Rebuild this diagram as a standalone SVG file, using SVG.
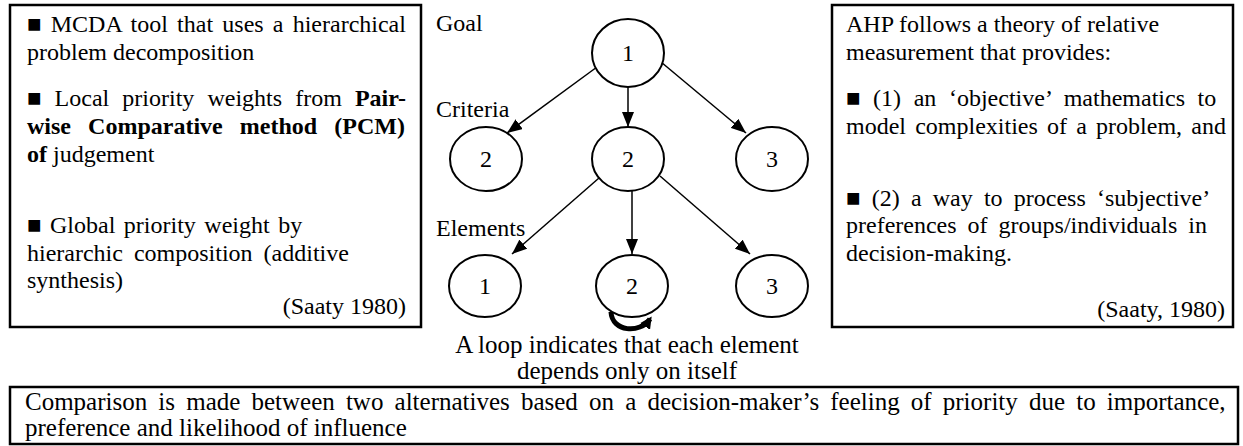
<svg xmlns="http://www.w3.org/2000/svg" width="1243" height="446" viewBox="0 0 1243 446" font-family="'Liberation Serif', 'Times New Roman', serif">
<style>
text{font-family:'Liberation Serif','Times New Roman',serif;font-size:24px;fill:#000}
.box{fill:#fff;stroke:#000;stroke-width:2.5}
.node{fill:#fff;stroke:#000;stroke-width:2}
.num{text-anchor:middle}
.conn{fill:none;stroke:#000;stroke-width:1.5;marker-end:url(#ah)}
.b{font-weight:bold}
.lg{font-size:25px}
</style>
<defs>
<marker id="ah" viewBox="0 0 15 12" refX="15" refY="6" markerWidth="15" markerHeight="12" markerUnits="userSpaceOnUse" orient="auto"><path d="M0,0 L15,6 L0,12 Z" fill="#000"/></marker>
<marker id="ah2" viewBox="0 0 12 12" refX="9" refY="6" markerWidth="12" markerHeight="12" markerUnits="userSpaceOnUse" orient="auto"><path d="M0,0 L12,6 L0,12 Z" fill="#000"/></marker>
</defs>
<g id="left-box">
<rect class="box" x="10" y="5" width="411" height="322"/>
<text x="27" y="32" word-spacing="3.2">■ MCDA tool that uses a hierarchical</text>
<text x="27" y="60">problem decomposition</text>
<text x="27" y="106" word-spacing="7.1">■ Local priority weights from <tspan class="b">Pair-</tspan></text>
<text x="27" y="134" class="b" word-spacing="11.1">wise Comparative method (PCM)</text>
<text x="27" y="162"><tspan class="b">of</tspan> judgement</text>
<text x="27" y="233" word-spacing="2.5">■ Global priority weight by</text>
<text x="27" y="261" word-spacing="5">hierarchic composition (additive</text>
<text x="27" y="288">synthesis)</text>
<text x="406" y="314" text-anchor="end">(Saaty 1980)</text>
</g>
<g id="right-box">
<rect class="box" x="832" y="5" width="401" height="322"/>
<text x="846" y="32">AHP follows a theory of relative</text>
<text x="846" y="60">measurement that provides:</text>
<text x="846" y="106" word-spacing="6.6">■ (1) an ‘objective’ mathematics to</text>
<text x="846" y="134" word-spacing="3.2">model complexities of a problem, and</text>
<text x="846" y="206" word-spacing="5.2">■ (2) a way to process ‘subjective’</text>
<text x="846" y="233" word-spacing="5">preferences of groups/individuals in</text>
<text x="846" y="261">decision-making.</text>
<text x="1225" y="317" text-anchor="end">(Saaty, 1980)</text>
</g>
<g id="level-labels">
<text x="436" y="31">Goal</text>
<text x="436" y="117">Criteria</text>
<text x="436" y="236">Elements</text>
</g>
<g id="connectors">
<line class="conn" x1="597" y1="67" x2="507" y2="133"/>
<line class="conn" x1="628" y1="87" x2="628" y2="127"/>
<line class="conn" x1="661" y1="62" x2="746" y2="133"/>
<line class="conn" x1="599" y1="178" x2="512" y2="254"/>
<line class="conn" x1="632" y1="190" x2="632" y2="254"/>
<line class="conn" x1="660" y1="176" x2="750" y2="254"/>
<path id="loop" d="M611,312 C612,332 640,334 650,319" fill="none" stroke="#000" stroke-width="5" marker-end="url(#ah2)"/>
</g>
<g id="goal"><ellipse class="node" cx="628" cy="53" rx="36" ry="34"/><text class="num" x="628" y="61">1</text></g>
<g id="criterion-1"><ellipse class="node" cx="486" cy="159" rx="36" ry="32"/><text class="num" x="486" y="167">2</text></g>
<g id="criterion-2"><ellipse class="node" cx="628" cy="159" rx="36" ry="32"/><text class="num" x="628" y="167">2</text></g>
<g id="criterion-3"><ellipse class="node" cx="772" cy="159" rx="36" ry="32"/><text class="num" x="772" y="167">3</text></g>
<g id="element-1"><ellipse class="node" cx="485" cy="286" rx="36" ry="31"/><text class="num" x="485" y="294">1</text></g>
<g id="element-2"><ellipse class="node" cx="632" cy="286" rx="36" ry="31"/><text class="num" x="632" y="294">2</text></g>
<g id="element-3"><ellipse class="node" cx="772" cy="286" rx="36" ry="31"/><text class="num" x="772" y="294">3</text></g>
<g id="loop-caption">
<text class="num lg" x="627" y="353">A loop indicates that each element</text>
<text class="num lg" x="627" y="379">depends only on itself</text>
</g>
<g id="bottom-box">
<rect class="box" x="10" y="387" width="1228" height="57"/>
<text class="lg" x="25" y="410" word-spacing="4.9">Comparison is made between two alternatives based on a decision-maker’s feeling of priority due to importance,</text>
<text class="lg" x="25" y="436">preference and likelihood of influence</text>
</g>
</svg>
